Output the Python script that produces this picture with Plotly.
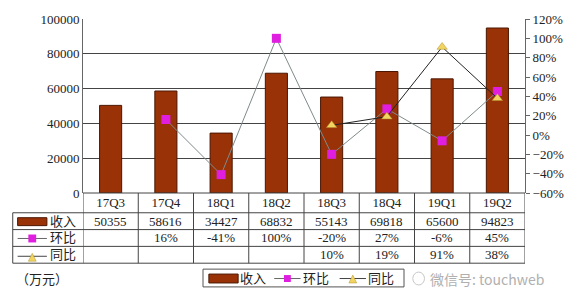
import plotly.graph_objects as go

categories = ["17Q3", "17Q4", "18Q1", "18Q2", "18Q3", "18Q4", "19Q1", "19Q2"]
revenue = [50355, 58616, 34427, 68832, 55143, 69818, 65600, 94823]
qoq = [None, 16, -41, 100, -20, 27, -6, 45]
yoy = [None, None, None, None, 10, 19, 91, 38]
row_names = ["收入", "环比", "同比"]
left_ticks = [0, 20000, 40000, 60000, 80000, 100000]
right_ticks = [-60, -40, -20, 0, 20, 40, 60, 80, 100, 120]

W, H = 576, 295
L, R, T, B = 83, 536, 17, 193
FONT = "Liberation Serif, Noto Sans CJK SC, serif"
BAR = "#9a3208"
BAR_EDGE = "#4a1600"
MAG = "#e01ee0"
TRI = "#f2d560"
TRI_EDGE = "#b09030"
TXT = "#222222"

def px(x):
    return (x - L) / (R - L)

def py(y):
    return (B - y) / (B - T)

fig = go.Figure()
fig.add_trace(go.Bar(x=categories, y=revenue, name="收入", width=0.4,
                     marker=dict(color=BAR, line=dict(color=BAR_EDGE, width=1))))
fig.add_trace(go.Scatter(x=categories, y=qoq, name="环比", yaxis="y2", mode="lines+markers",
                         line=dict(color="#7f8a8a", width=1),
                         marker=dict(symbol="square", size=9, color=MAG)))
fig.add_trace(go.Scatter(x=categories, y=yoy, name="同比", yaxis="y2", mode="lines+markers",
                         line=dict(color="#222222", width=1),
                         marker=dict(symbol="triangle-up", size=9, color=TRI,
                                     line=dict(color=TRI_EDGE, width=0.5))))

shapes = []
annotations = []
line_c = "#444444"

def hline(x0, x1, y, color=line_c):
    shapes.append(dict(type="line", xref="paper", yref="paper", x0=px(x0), x1=px(x1),
                       y0=py(y), y1=py(y), line=dict(color=color, width=1)))

def rect(x0, x1, y0, y1, fill, edge=None):
    shapes.append(dict(type="rect", xref="paper", yref="paper", x0=px(x0), x1=px(x1),
                       y0=py(y1), y1=py(y0), fillcolor=fill,
                       line=dict(color=edge or fill, width=1 if edge else 0)))

def tri(xc, yc, fill, edge):
    shapes.append(dict(type="path", xref="paper", yref="paper",
                       path="M {} {} L {} {} L {} {} Z".format(px(xc - 4), py(yc + 4), px(xc + 4), py(yc + 4), px(xc), py(yc - 4)),
                       fillcolor=fill, line=dict(color=edge, width=0.5)))

def text(t, x, y, anchor="left", size=13, color=TXT, family=FONT):
    annotations.append(dict(text=t, xref="paper", yref="paper", x=px(x), y=py(y),
                            xanchor=anchor, yanchor="middle", showarrow=False,
                            font=dict(size=size, color=color, family=family)))

# table horizontal lines
rows_y = [193, 213, 230, 247, 264]
for i, yy in enumerate(rows_y):
    hline(L if i == 0 else 11, R, yy)
# vertical lines
for k in range(len(categories) + 1):
    shapes.append(dict(type="line", xref="x", yref="paper", x0=k - 0.5, x1=k - 0.5,
                       y0=py(193), y1=py(264), line=dict(color=line_c, width=1)))
shapes.append(dict(type="line", xref="paper", yref="paper", x0=px(11), x1=px(11),
                   y0=py(213), y1=py(264), line=dict(color=line_c, width=1)))

# row header symbols
rect(16, 46, 218, 226, BAR, BAR_EDGE)
hline(16, 46, 239, "#666")
rect(27, 35, 235, 243, MAG)
hline(16, 46, 257, "#444")
tri(31, 258, TRI, TRI_EDGE)

row_centers = [221.5, 238.5, 255.5]
for name, yc in zip(row_names, row_centers):
    text(name, 47, yc)

def fmt_pct(v):
    return "" if v is None else "{}%".format(v)

for i, c in enumerate(categories):
    vals = [str(revenue[i]), fmt_pct(qoq[i]), fmt_pct(yoy[i])]
    for v, yc in zip(vals, row_centers):
        if v:
            annotations.append(dict(text=v, xref="x", yref="paper", x=c, y=py(yc),
                                    xanchor="center", yanchor="middle", showarrow=False,
                                    font=dict(size=13, color=TXT, family=FONT)))

text("（万元）", 12, 280)

# manual legend box
shapes.append(dict(type="rect", xref="paper", yref="paper", x0=px(206), x1=px(412),
                   y0=py(288), y1=py(270), fillcolor="white",
                   line=dict(color="#555", width=1)))
rect(212, 242, 275, 284, BAR, BAR_EDGE)
text(row_names[0], 242, 279.5)
hline(279, 306, 279.5, "#666")
rect(289, 296, 276, 283, MAG)
text(row_names[1], 306, 279.5)
hline(346, 373, 279.5, "#444")
tri(359.5, 280, TRI, TRI_EDGE)
text(row_names[2], 373, 279.5)

# watermark
text("微信号: touchweb", 437, 280, size=14, color="#b0b0b0", family="Noto Sans CJK SC, sans-serif")
shapes.append(dict(type="circle", xref="paper", yref="paper", x0=px(421), x1=px(433),
                   y0=py(286), y1=py(273), line=dict(color="#c8c8c8", width=1)))

fig.update_layout(
    width=W, height=H,
    margin=dict(l=L, r=W - R, t=T, b=H - B),
    paper_bgcolor="white", plot_bgcolor="white",
    font=dict(family=FONT, size=13, color=TXT),
    shapes=shapes,
    annotations=annotations,
    showlegend=False,
    xaxis=dict(type="category", range=[-0.5, 7.5], showgrid=False, showline=False,
               ticks="", tickfont=dict(size=13), fixedrange=True),
    yaxis=dict(range=[0, 100000], tickvals=left_ticks, tickformat="d", showgrid=True,
               gridcolor="#444", gridwidth=1, showline=True, linecolor="#666",
               zeroline=False, ticks="", tickfont=dict(size=13)),
    yaxis2=dict(overlaying="y", side="right", range=[-60, 120], tickvals=right_ticks,
                ticktext=["{}%".format(v).replace("-", "\u2212") for v in right_ticks],
                showgrid=False, showline=True, linecolor="#666",
                ticks="outside", ticklen=4, tickcolor="#666", zeroline=False,
                tickfont=dict(size=13)),
)

fig.write_html("out.html")
